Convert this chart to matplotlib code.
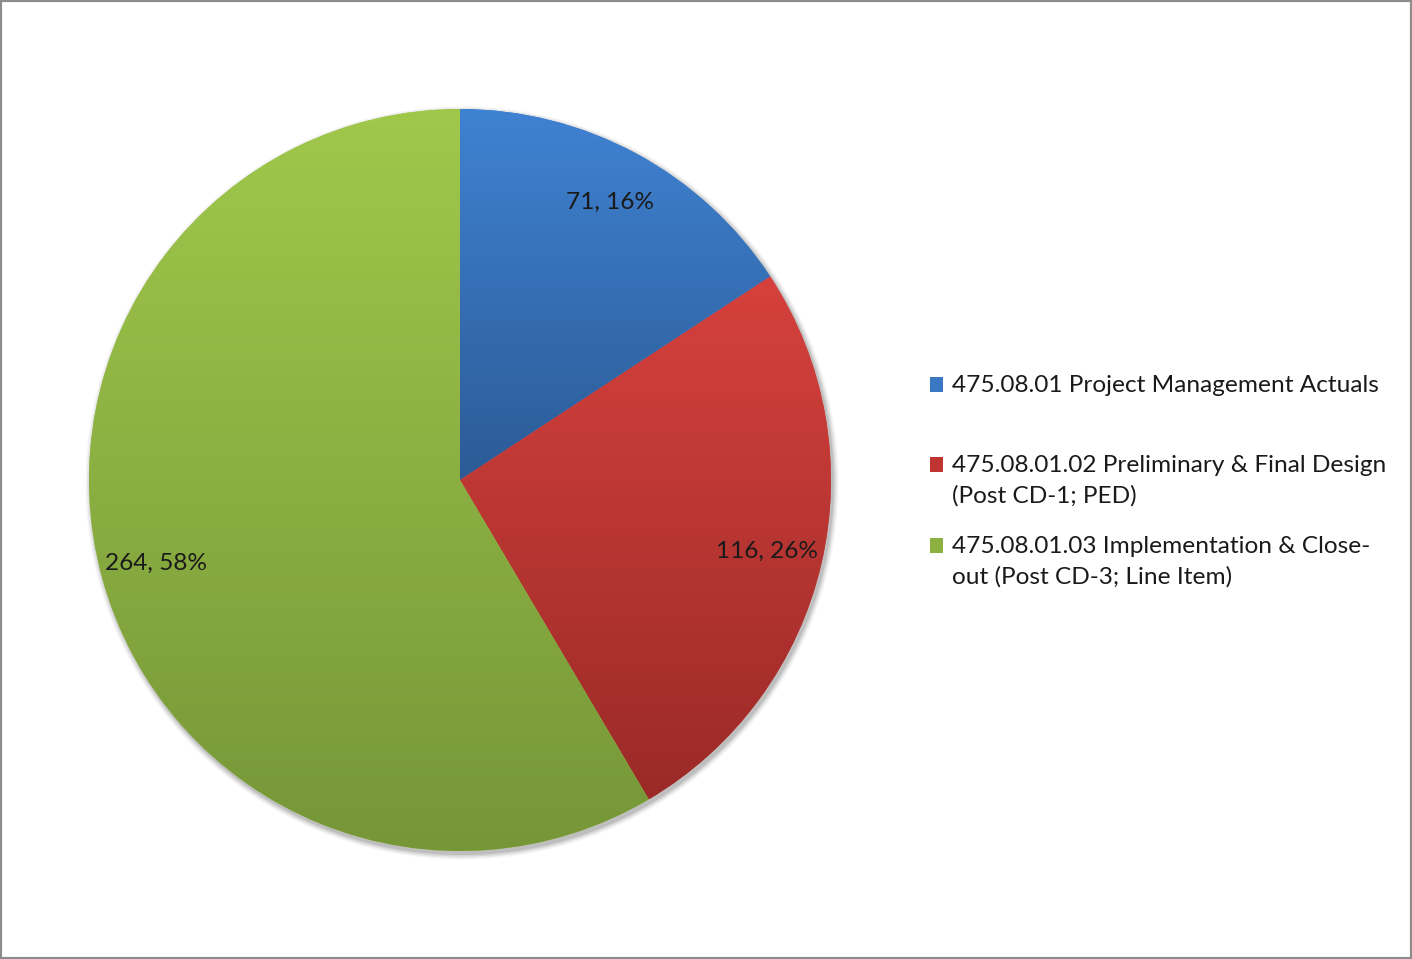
import numpy as np
import matplotlib
matplotlib.use("Agg")
import matplotlib.pyplot as plt
from matplotlib.colors import LinearSegmentedColormap
from matplotlib.patches import Rectangle, Circle
from matplotlib.legend_handler import HandlerBase

plt.rcParams['font.family'] = ['Lato', 'DejaVu Sans']

# data
labels = ['475.08.01 Project Management Actuals\n',
          '475.08.01.02 Preliminary & Final Design\n(Post CD-1; PED)',
          '475.08.01.03 Implementation & Close-\nout (Post CD-3; Line Item)']
values = [71, 116, 263.58]
top_colors = ['#3f82d2', '#d6413d', '#a0c84b']
bottom_colors = ['#2c5b96', '#9a2a27', '#769638']
legend_colors = ['#3a78c4', '#c03532', '#8db141']

total = sum(values)
FS = 17.6
PITCH_PX = 31.5

fig = plt.figure(figsize=(14.12, 9.59), dpi=100)
ax = fig.add_axes([0, 0, 1, 1])

cx, cy, R = 460, 479, 371

# soft shadow
for i, a in enumerate([0.10, 0.08, 0.06, 0.04]):
    ax.add_patch(Circle((cx + 2, cy - 3), R + 1 + i * 1.5, color='#000000',
                        alpha=a, lw=0, zorder=0))

def fmt(pct):
    v = int(round(pct * total / 100.0))
    return f"{v}, {round(pct):.0f}%"

wedges, _, autotexts = ax.pie(values, center=(cx, cy), radius=R, startangle=90,
                              counterclock=False, colors=top_colors,
                              autopct=fmt, pctdistance=0.85,
                              wedgeprops=dict(linewidth=0, zorder=1),
                              textprops=dict(fontsize=FS, color='#1a1a1a'))

# vertical gradient fill per slice
for w, ct, cb in zip(wedges, top_colors, bottom_colors):
    ext = w.get_path().get_extents()
    bb = w.get_transform().transform_bbox(ext)
    bb = ax.transData.inverted().transform_bbox(bb)
    cmap = LinearSegmentedColormap.from_list('g', [cb, ct])
    grad = np.linspace(1, 0, 256).reshape(-1, 1)
    im = ax.imshow(grad, cmap=cmap, aspect='auto',
                   extent=[bb.x0, bb.x1, bb.y0, bb.y1], zorder=2,
                   interpolation='bicubic')
    im.set_clip_path(w)

for t in autotexts:
    t.set_zorder(5)

ax.set_xlim(0, 1412)
ax.set_ylim(0, 959)
ax.set_aspect('equal')
ax.axis('off')


class TopSquare(HandlerBase):
    # square marker lined up with the first line of a multi-line label
    def __init__(self, nlines):
        super().__init__()
        self.nlines = nlines

    def create_artists(self, legend, orig_handle, xdescent, ydescent,
                       width, height, fontsize, trans):
        pitch_pt = PITCH_PX * 72 / 100
        y = -ydescent + (self.nlines - 1) / 2 * pitch_pt
        r = Rectangle((-xdescent, y), width, height,
                      facecolor=orig_handle.get_facecolor(), lw=0, transform=trans)
        return [r]


handles = [Rectangle((0, 0), 1, 1, color=c) for c in legend_colors]
hmap = {h: TopSquare(lab.count('\n') + 1) for h, lab in zip(handles, labels)}
leg = ax.legend(handles, labels, loc='upper left', bbox_to_anchor=(930 / 1412, 1 - 375 / 959),
                bbox_transform=fig.transFigure, frameon=False, fontsize=FS,
                handlelength=0.55, handleheight=0.55, handletextpad=0.35,
                labelspacing=1.19, borderaxespad=0, borderpad=0, handler_map=hmap)
for t in leg.get_texts():
    t.set_color('#1a1a1a')
    t.set_linespacing(1.52)

fig.patches.append(Rectangle((0, 0), 1, 1, transform=fig.transFigure, fill=False,
                             ec='#8c8c8c', lw=3, zorder=10))

fig.savefig('out.png', dpi=100, facecolor='white')
